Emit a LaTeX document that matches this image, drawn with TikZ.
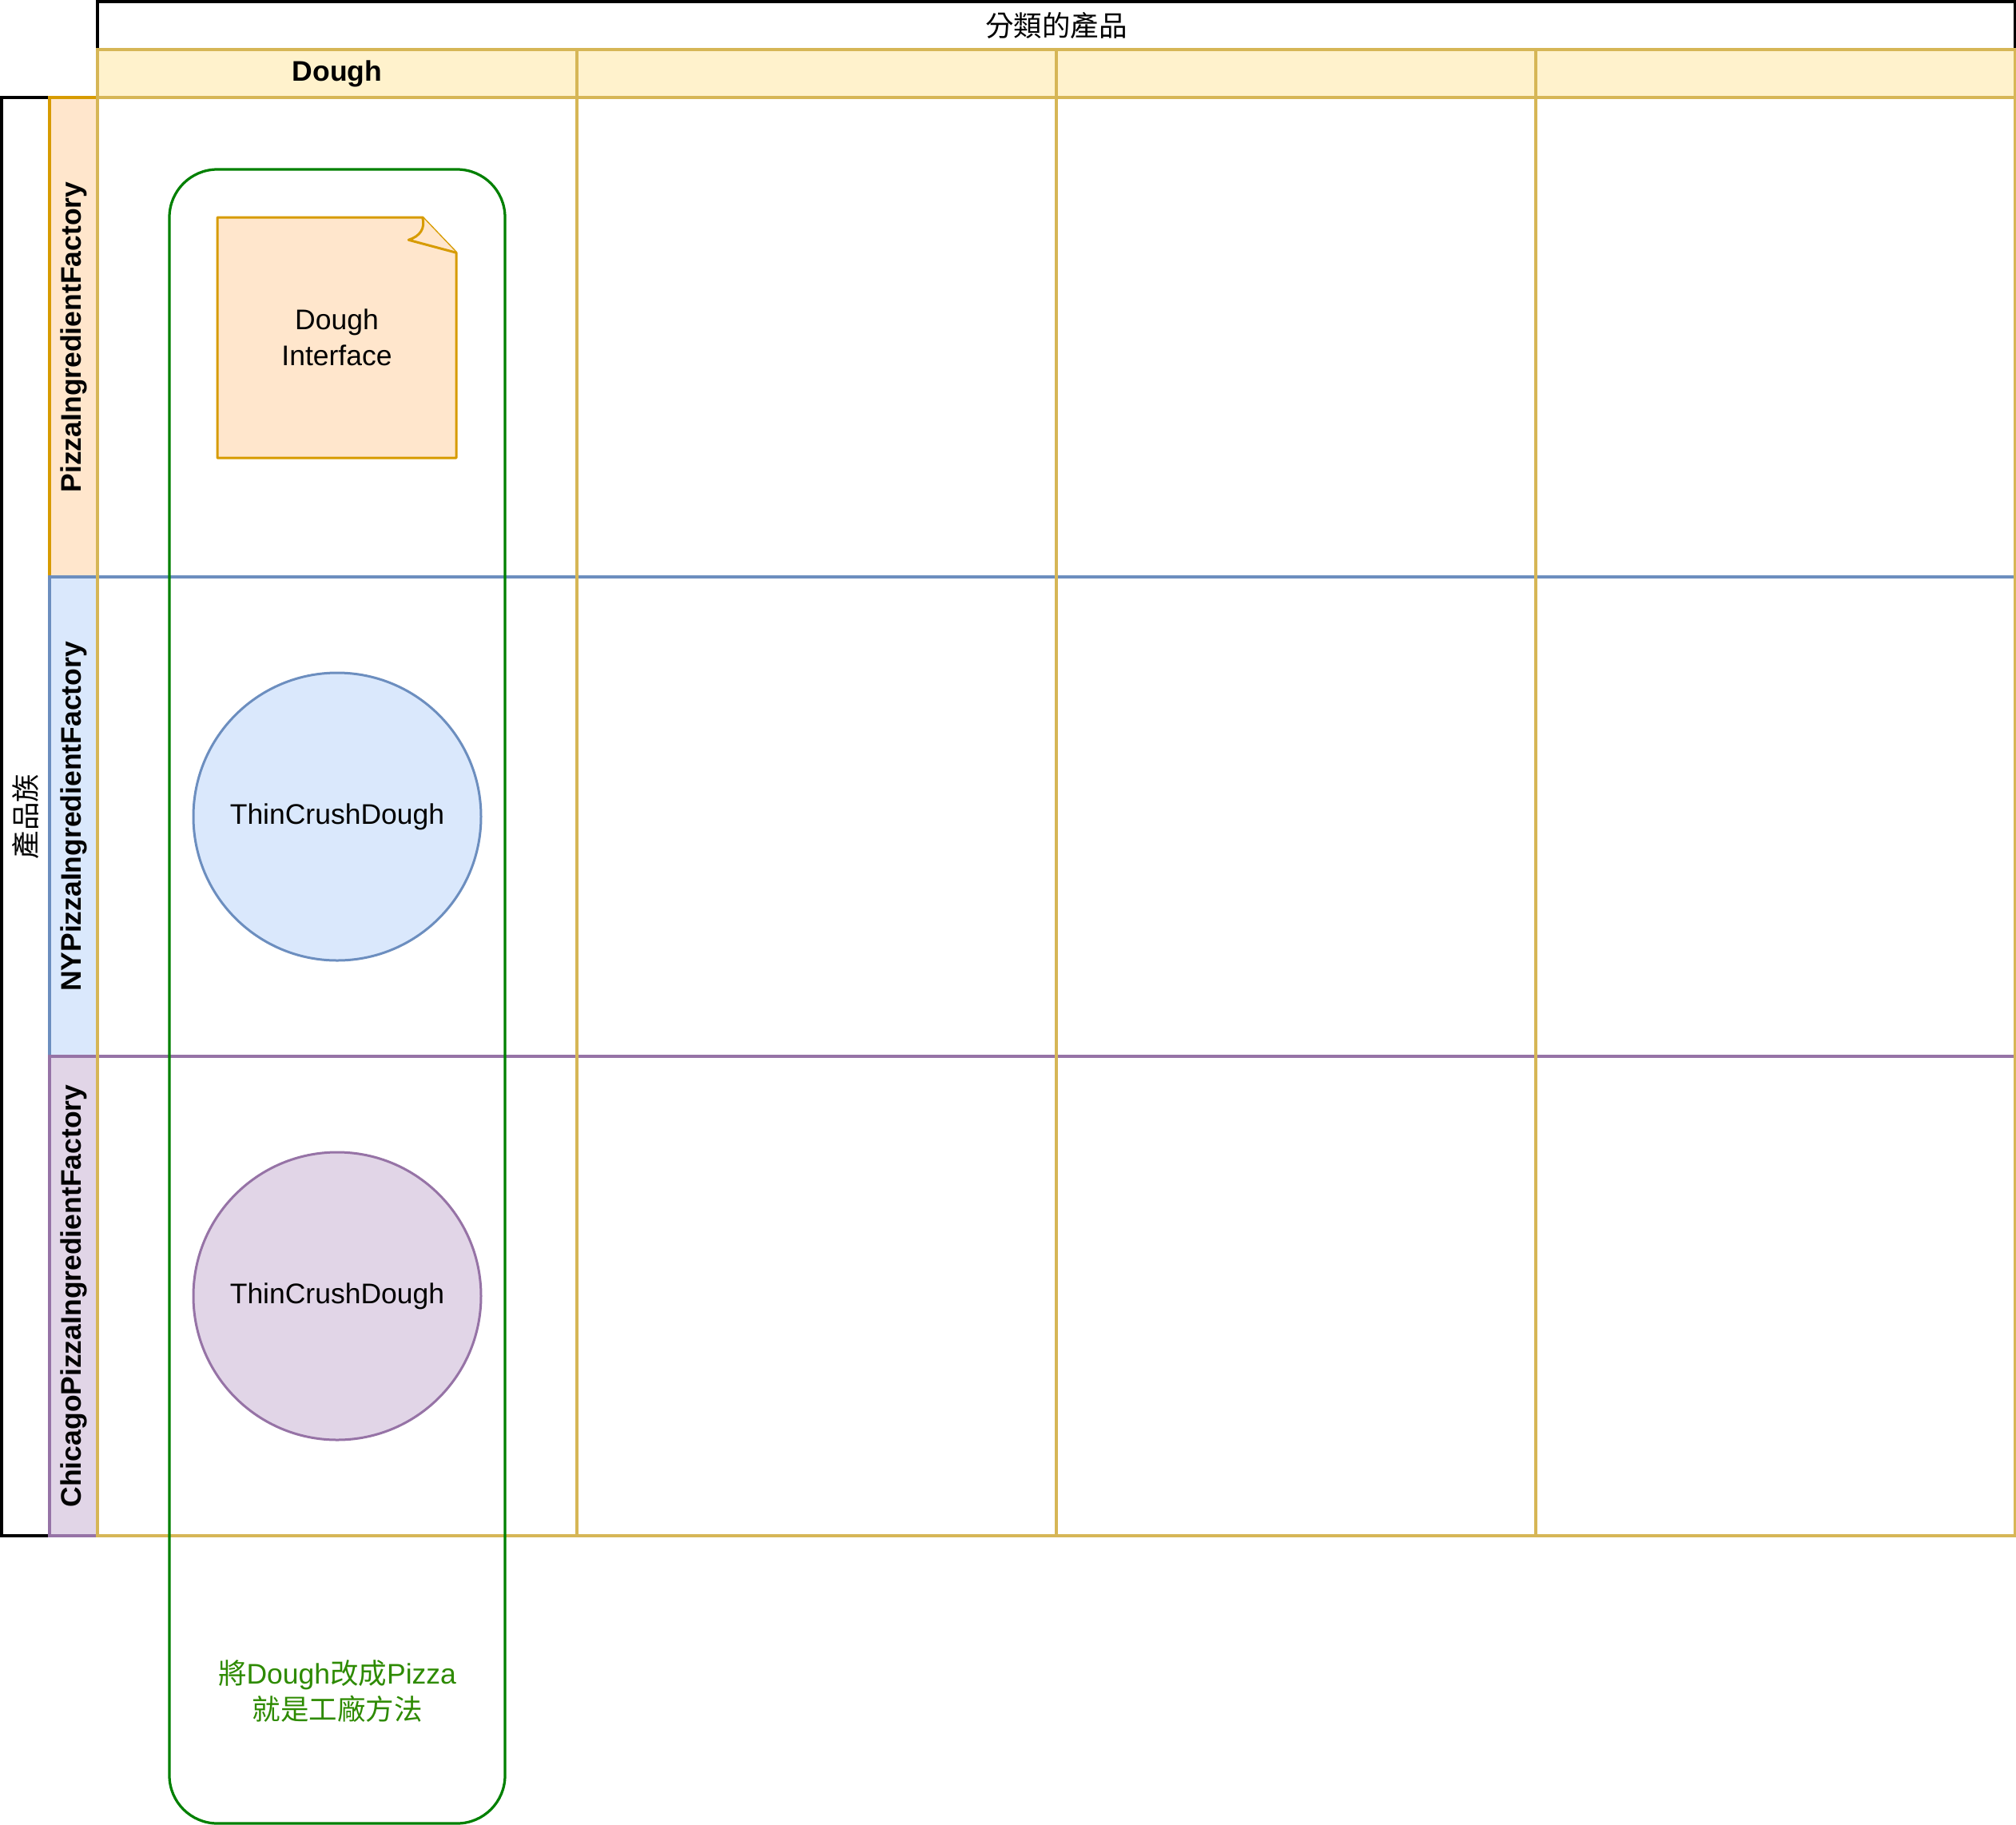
\documentclass[tikz,border=0pt]{standalone}
\usepackage{fontspec}
\setmainfont{Liberation Sans}
\newfontfamily\cjk{Noto Sans CJK TC}
\usepackage{tikz}
\usetikzlibrary{positioning}
\definecolor{yel}{HTML}{D6B656}
\definecolor{yelfill}{HTML}{FFF2CC}
\definecolor{ora}{HTML}{D79B00}
\definecolor{orafill}{HTML}{FFE6CC}
\definecolor{blu}{HTML}{6C8EBF}
\definecolor{blufill}{HTML}{DAE8FC}
\definecolor{pur}{HTML}{9673A6}
\definecolor{purfill}{HTML}{E1D5E7}
\definecolor{grn}{HTML}{008000}
\definecolor{grntext}{HTML}{2D8A00}

\begin{document}
\begin{tikzpicture}[x=1pt, y=-1pt,
  font=\fontsize{14.2}{18}\selectfont,
  box/.style={draw=#1, line width=1.3pt, inner sep=0pt, outer sep=0pt, anchor=north west},
  hdr/.style={box=#1, fill=#1fill},
  lanetext/.style={rotate=90, font=\fontsize{14.2}{18}\selectfont\bfseries},
  impl/.style={circle, draw=#1, fill=#1fill, line width=1.2pt, minimum size=144pt, inner sep=0pt},
  group/.style={draw=grn, line width=1.3pt, rounded corners=24pt}]
  \useasboundingbox (-0.8,-0.8) rectangle (1008.4,912.4);

  % outer pools
  \node[box=black, minimum width=960pt, minimum height=24pt] (prodcls) at (48,0) {\cjk 分類的產品};
  \node[box=black, minimum width=24pt, minimum height=720pt] (prodfam) at (0,48) {};
  \node[rotate=90] (prodfamtext) at (prodfam.center) {\cjk 產品族};

  % rows: one per factory
  \node[box=ora, minimum width=984pt, minimum height=240pt] (rowbase) at (24,48) {};
  \node[hdr=ora, minimum width=24pt, minimum height=240pt] (hbase) at (24,48) {};
  \node[lanetext] (tbase) at (hbase.center) {PizzaIngredientFactory};
  \node[box=blu, minimum width=984pt, minimum height=240pt] (rowny) at (24,288) {};
  \node[hdr=blu, minimum width=24pt, minimum height=240pt] (hny) at (24,288) {};
  \node[lanetext] (tny) at (hny.center) {NYPizzaIngredientFactory};
  \node[box=pur, minimum width=984pt, minimum height=240pt] (rowchi) at (24,528) {};
  \node[hdr=pur, minimum width=24pt, minimum height=240pt] (hchi) at (24,528) {};
  \node[lanetext] (tchi) at (hchi.center) {ChicagoPizzaIngredientFactory};

  % columns: one per product
  \node[box=yel, minimum width=240pt, minimum height=744pt] (coldough) at (48,24) {};
  \node[hdr=yel, minimum width=240pt, minimum height=24pt, font=\fontsize{14.2}{18}\selectfont\bfseries] (hdough) at (48,24) {Dough};
  \node[box=yel, minimum width=240pt, minimum height=744pt] (col2) at (288,24) {};
  \node[hdr=yel, minimum width=240pt, minimum height=24pt] (h2) at (288,24) {};
  \node[box=yel, minimum width=240pt, minimum height=744pt] (col3) at (528,24) {};
  \node[hdr=yel, minimum width=240pt, minimum height=24pt] (h3) at (528,24) {};
  \node[box=yel, minimum width=240pt, minimum height=744pt] (col4) at (768,24) {};
  \node[hdr=yel, minimum width=240pt, minimum height=24pt] (h4) at (768,24) {};

  % the dough products
  \draw[draw=ora, fill=orafill, line width=1.2pt, line join=round]
    (108,108) -- (210.7,108) -- (227.6,125.7) -- (227.6,228.4) -- (108,228.4) -- cycle;
  \draw[draw=ora, fill=orafill, line width=1.2pt, line join=round]
    (210.7,108) .. controls (212.2,113.5) and (209.5,117.5) .. (203.7,119.3) -- (227.6,125.7);
  \node[align=center] (iface) at (167.8,168.2) {Dough\\Interface};
  \node[impl=blu] (nydough) at (168,408) {ThinCrushDough};
  \node[impl=pur] (chidough) at (168,648) {ThinCrushDough};

  % factory method group
  \draw[group] (84,84) rectangle (252,912);
  \node[align=center, text=grntext] (note) at (168,846)
    {{\cjk 將}Dough{\cjk 改成}Pizza\\{\cjk 就是工廠方法}};
\end{tikzpicture}
\end{document}
